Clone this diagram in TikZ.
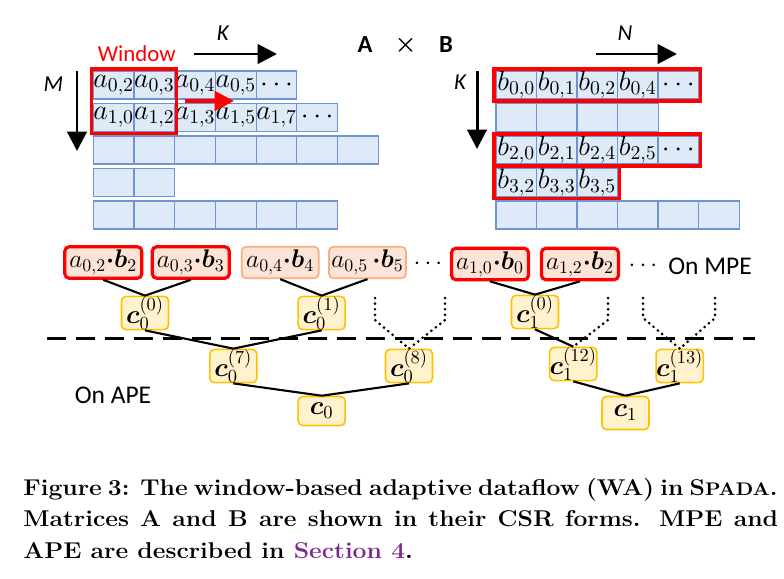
\RequirePackage{fix-cm}
\documentclass[tikz,border=0pt]{standalone}
\usepackage{fontspec}
\newfontfamily\carlito{Carlito}
\usepackage{bm}
\usepackage{xcolor}
\usetikzlibrary{arrows.meta}
\usetikzlibrary{fit}

\definecolor{cellfill}{HTML}{DEEAF7}
\definecolor{cellline}{HTML}{6F94D4}
\definecolor{prodfill}{HTML}{FBE3D6}
\definecolor{prodline}{HTML}{F4B183}
\definecolor{sumfill}{HTML}{FFF2CC}
\definecolor{sumline}{HTML}{FFC000}
\definecolor{sectpurple}{HTML}{7E2A8C}

\begin{document}
\begin{tikzpicture}[x=0.02cm,y=-0.02cm,
    cell/.style={shape=rectangle,
      draw=cellline,
      fill=cellfill,
      line width=0.7pt,
      inner sep=0pt,
      minimum width=0.814cm,
      minimum height=0.56cm,
      font=\fontsize{16}{18}\selectfont},
    redwin/.style={shape=rectangle,
      draw=red,
      line width=1.8pt,
      inner sep=0.8pt},
    prod/.style={shape=rectangle,
      rounded corners=2.5pt,
      draw=prodline,
      fill=prodfill,
      line width=1pt,
      inner sep=0pt,
      minimum width=1.54cm,
      minimum height=0.63cm,
      font=\fontsize{14.5}{16}\selectfont},
    prodsel/.style={prod,draw=red,line width=1.8pt},
    psum/.style={shape=rectangle,
      rounded corners=2.5pt,
      draw=sumline,
      fill=sumfill,
      line width=0.9pt,
      inner sep=0pt,
      minimum width=0.94cm,
      minimum height=0.66cm,
      font=\fontsize{15}{17}\selectfont},
    label/.style={font=\carlito\fontsize{13}{15}\selectfont},
    axis/.style={-{Triangle[length=11pt,width=11pt]},line width=1.7pt,draw=black},
    link/.style={line width=1.2pt,draw=black},
    dots/.style={line width=1.7pt,line cap=round,dash pattern=on 0pt off 3.2pt},
    sep/.style={line width=1.5pt,dash pattern=on 11pt off 5.5pt},
    caption/.style={anchor=base west,inner sep=0pt,font=\bfseries\fontsize{13}{15}\selectfont}]
  %\draw[help lines] (0,0) grid[step=50] (784,578); % Only for Development
  \useasboundingbox (0,0) rectangle (784,578);

  % matrix A
  \foreach \lbl [count=\i from 0] in {{$a_{0,2}$},{$a_{0,3}$},{$a_{0,4}$},{$a_{0,5}$},{$\cdots$}}
    \node[cell] (A0\i) at (113.7+40.7*\i,85) {\lbl};
  \foreach \lbl [count=\i from 0] in {{$a_{1,0}$},{$a_{1,2}$},{$a_{1,3}$},{$a_{1,5}$},{$a_{1,7}$},{$\cdots$}}
    \node[cell] (A1\i) at (113.7+40.7*\i,117.5) {\lbl};
  \foreach \i in {0,...,6}
    \node[cell] (A2\i) at (113.7+40.7*\i,150) {};
  \foreach \i in {0,1}
    \node[cell] (A3\i) at (113.7+40.7*\i,182.5) {};
  \foreach \i in {0,...,5}
    \node[cell] (A4\i) at (113.7+40.7*\i,215) {};

  % matrix B
  \foreach \lbl [count=\i from 0] in {{$b_{0,0}$},{$b_{0,1}$},{$b_{0,2}$},{$b_{0,4}$},{$\cdots$}}
    \node[cell] (B0\i) at (516.3+40.5*\i,85) {\lbl};
  \foreach \i in {0,...,3}
    \node[cell] (B1\i) at (516.3+40.5*\i,117.5) {};
  \foreach \lbl [count=\i from 0] in {{$b_{2,0}$},{$b_{2,1}$},{$b_{2,4}$},{$b_{2,5}$},{$\cdots$}}
    \node[cell] (B2\i) at (516.3+40.5*\i,150) {\lbl};
  \foreach \lbl [count=\i from 0] in {{$b_{3,2}$},{$b_{3,3}$},{$b_{3,5}$}}
    \node[cell] (B3\i) at (516.3+40.5*\i,182.5) {\lbl};
  \foreach \i in {0,...,5}
    \node[cell] (B4\i) at (516.3+40.5*\i,215) {};

  % windows and selected rows
  \node[redwin,fit=(A00)(A11)] (window) {};
  \node[redwin,fit=(B00)(B04)] (rowB0) {};
  \node[redwin,fit=(B20)(B24)] (rowB2) {};
  \node[redwin,fit=(B30)(B32)] (rowB3) {};

  \node[label,text=red] (wintext) at (136.7,53.3) {Window};
  \node[label,font=\carlito\itshape\fontsize{13}{15}\selectfont] (Ktop) at (222.7,33.3) {K};
  \node[label,font=\carlito\itshape\fontsize{13}{15}\selectfont] (Mleft) at (53.3,84) {M};
  \node[label,font=\carlito\itshape\fontsize{13}{15}\selectfont] (Ntop) at (625,33.3) {N};
  \node[label,font=\carlito\itshape\fontsize{13}{15}\selectfont] (Kleft) at (460,81.7) {K};
  \node[label,font=\carlito\bfseries\fontsize{14}{16}\selectfont] (matA) at (365,45) {A};
  \node[font=\fontsize{14}{16}\selectfont] (times) at (405.5,45) {$\bm{\times}$};
  \node[label,font=\carlito\bfseries\fontsize{14}{16}\selectfont] (matB) at (446,45) {B};

  \coordinate (kA1) at (194,54);
  \coordinate (kA2) at (277,54);
  \coordinate (mA1) at (77,71);
  \coordinate (mA2) at (77,151);
  \coordinate (nB1) at (596,54);
  \coordinate (nB2) at (677,54);
  \coordinate (kB1) at (477,71);
  \coordinate (kB2) at (477,149);
  \coordinate (winL) at (185,101);
  \coordinate (winR) at (234,101);
  \draw[axis] (kA1) -- (kA2);
  \draw[axis] (mA1) -- (mA2);
  \draw[axis] (nB1) -- (nB2);
  \draw[axis] (kB1) -- (kB2);
  \draw[axis,draw=red,line width=2pt] (winL) -- (winR);

  % products on MPE
  \node[prodsel] (p1) at (103.3,262.5) {$a_{0,2}{\bm{\cdot}}\bm{b}_2$};
  \node[prodsel] (p2) at (190.8,262.5) {$a_{0,3}{\bm{\cdot}}\bm{b}_3$};
  \node[prod] (p3) at (280.2,262.5) {$a_{0,4}{\bm{\cdot}}\bm{b}_4$};
  \node[prod] (p4) at (367.5,262.5) {$a_{0,5}\,{\bm{\cdot}}\bm{b}_5$};
  \node[font=\fontsize{14}{16}\selectfont] (dotsA) at (428,264) {$\cdots$};
  \node[prodsel] (p5) at (490,264) {$a_{1,0}{\bm{\cdot}}\bm{b}_0$};
  \node[prodsel] (p6) at (580,264) {$a_{1,2}{\bm{\cdot}}\bm{b}_2$};
  \node[font=\fontsize{14}{16}\selectfont] (dotsB) at (643,266) {$\cdots$};
  \node[label,font=\carlito\fontsize{14.5}{16}\selectfont] (onmpe) at (710,266) {On MPE};

  % partial sums
  \node[psum] (c00) at (145,313) {$\bm{c}_0^{(0)}$};
  \node[psum] (c01) at (321.7,313) {$\bm{c}_0^{(1)}$};
  \node[psum] (c07) at (233.3,366) {$\bm{c}_0^{(7)}$};
  \node[psum] (c08) at (409,366) {$\bm{c}_0^{(8)}$};
  \node[psum,minimum height=0.58cm] (c0) at (321.7,411) {$\bm{c}_0$};
  \node[psum] (c10) at (535,312) {$\bm{c}_1^{(0)}$};
  \node[psum] (c112) at (573.3,364) {$\bm{c}_1^{(12)}$};
  \node[psum] (c113) at (679.7,366) {$\bm{c}_1^{(13)}$};
  \node[psum] (c1) at (625.5,413) {$\bm{c}_1$};
  \node[label,font=\carlito\fontsize{14.5}{16}\selectfont] (onape) at (113,395) {On APE};

  \draw[link] (p1.south) -- (c00.north);
  \draw[link] (p2.south) -- (c00.north);
  \draw[link] (p3.south) -- (c01.north);
  \draw[link] (p4.south) -- (c01.north);
  \draw[link] (p5.south) -- (c10.north);
  \draw[link] (p6.south) -- (c10.north);
  \draw[link] (c00.south) -- (c07.north);
  \draw[link] (c01.south) -- (c07.north);
  \draw[link] (c07.south) -- (c0.north);
  \draw[link] (c08.south) -- (c0.north);
  \draw[link] (c10.south) -- (c112.north);
  \draw[link] (c112.south) -- (c1.north);
  \draw[link] (c113.south) -- (c1.north);

  \coordinate (d1) at (375,298);
  \coordinate (d2) at (445,298);
  \coordinate (d3) at (608,298);
  \coordinate (d4) at (643,298);
  \coordinate (d5) at (715,298);
  \draw[dots] (d1) -- ++(0,22) -- (c08.north);
  \draw[dots] (d2) -- ++(0,22) -- (c08.north);
  \draw[dots] (d3) -- ++(0,22) -- (c112.north);
  \draw[dots] (d4) -- ++(0,20) -- (c113.north);
  \draw[dots] (d5) -- ++(0,20) -- (c113.north);

  \coordinate (sepL) at (47,338.3);
  \coordinate (sepR) at (755,338.3);
  \draw[sep] (sepL) -- (sepR);

  % caption
  \node[caption] (cap1) at (23,495)
    {\scalebox{1.08}[1]{\makebox[13.9cm][s]{Figure 3: The window-based adaptive dataflow (WA) in S{\fontsize{10.4}{12}\selectfont PADA}.}}};
  \node[caption] (cap2) at (23,526.7)
    {\scalebox{1.08}[1]{\makebox[13.98cm][s]{Matrices A and B are shown in their CSR forms. MPE and}}};
  \node[caption] (cap3) at (23,558)
    {\scalebox{1.08}[1]{APE are described in \textcolor{sectpurple}{Section 4}.}};
\end{tikzpicture}
\end{document}
